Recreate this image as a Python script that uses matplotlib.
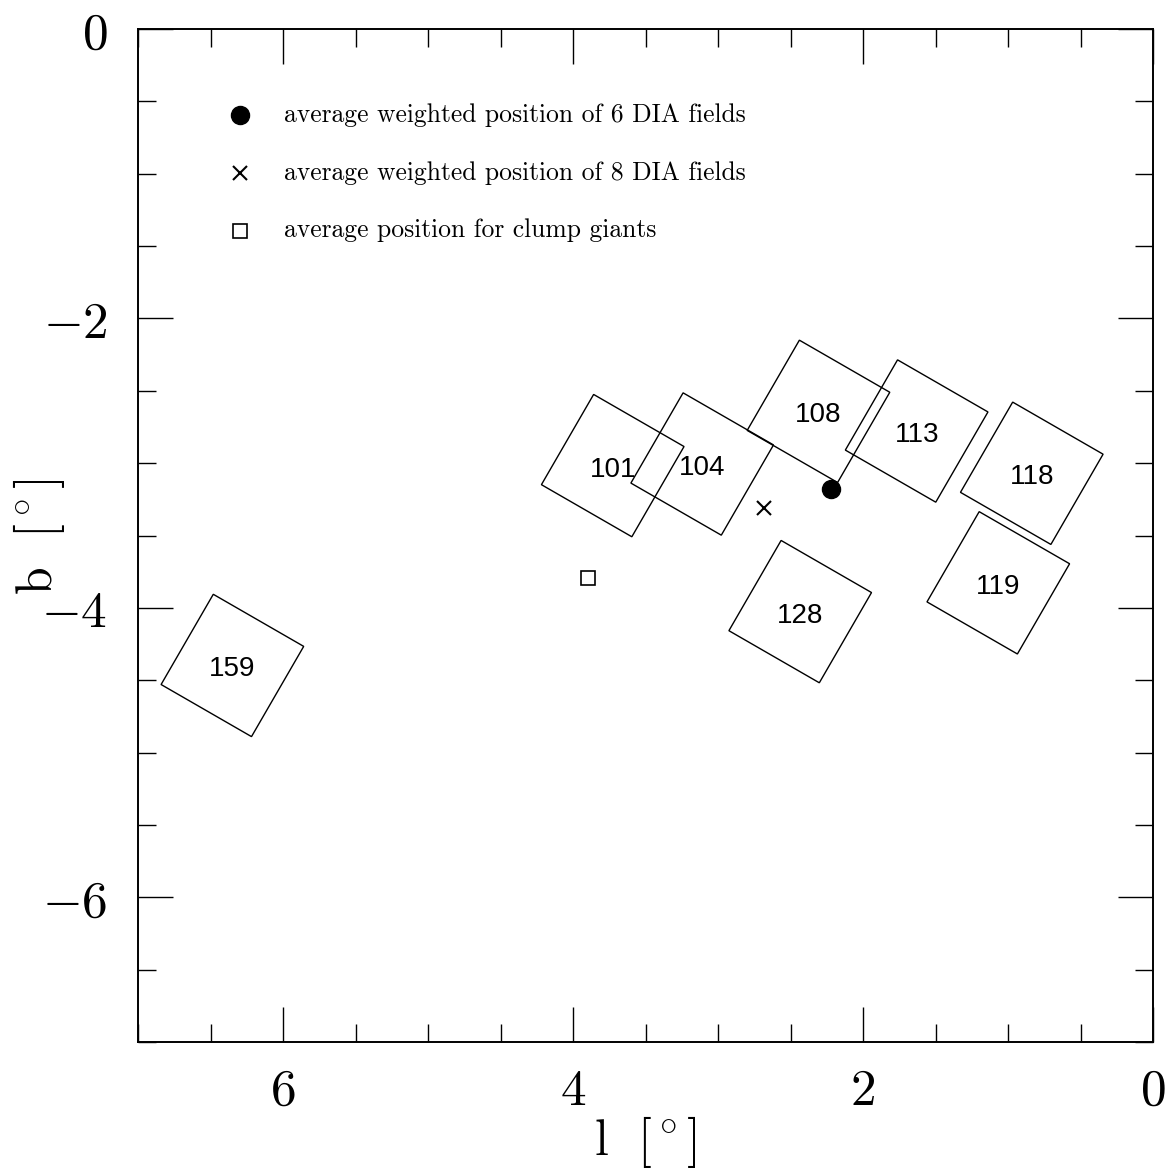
import numpy as np
import matplotlib
matplotlib.use('Agg')
import matplotlib.pyplot as plt
from matplotlib.patches import Polygon
from matplotlib.ticker import MultipleLocator, FuncFormatter

plt.rcParams['mathtext.fontset'] = 'cm'

# MACHO field centres (l, b) in degrees
field_names = ['101', '104', '108', '113', '118', '119', '128', '159']
field_l = [3.726, 3.109, 2.307, 1.630, 0.836, 1.067, 2.433, 6.349]
field_b = [-3.017, -3.006, -2.642, -2.778, -3.070, -3.827, -4.026, -4.398]
field_side = 0.72      # deg
field_angle = 30.0     # deg

# average positions
avg6_l, avg6_b = [2.223], [-3.179]
avg8_l, avg8_b = [2.683], [-3.310]
clump_l, clump_b = [3.899], [-3.795]

legend_texts = ['average weighted position of 6 DIA fields',
                'average weighted position of 8 DIA fields',
                'average position for clump giants']

W, H = 1169, 1170
fig = plt.figure(figsize=(W / 100, H / 100), dpi=100)
ax = fig.add_axes([138 / W, 1 - 1042 / H, 1015 / W, 1013 / H])
ax.set_xlim(7, 0)
ax.set_ylim(-7, 0)

th = np.deg2rad(field_angle)
u = 0.5 * field_side * np.array([np.cos(th), np.sin(th)])
v = 0.5 * field_side * np.array([-np.sin(th), np.cos(th)])
for name, l, b in zip(field_names, field_l, field_b):
    c = np.array([l, b])
    corners = [c + u + v, c + u - v, c - u - v, c - u + v]
    ax.add_patch(Polygon(corners, closed=True, fill=False, edgecolor='black', lw=1.0))
    ax.annotate(name, (l, b), xytext=(0, -4), textcoords='offset pixels',
                ha='center', va='center', fontsize=20, family='Liberation Sans')

ax.plot(avg6_l, avg6_b, 'o', color='black', ms=13)
ax.plot(avg8_l, avg8_b, 'x', color='black', ms=10, mew=1.5)
ax.plot(clump_l, clump_b, 's', mfc='none', mec='black', ms=10, mew=1.2)

# legend
leg_y = [0.915, 0.858, 0.801]
leg_style = [dict(marker='o', color='black', ms=13, ls='none'),
             dict(marker='x', color='black', ms=10, mew=1.5, ls='none'),
             dict(marker='s', mfc='none', mec='black', ms=10, mew=1.2, ls='none')]
for y, txt, st in zip(leg_y, legend_texts, leg_style):
    ax.plot([0.1005], [y], transform=ax.transAxes, **st)
    ax.text(0.1438, y, txt, transform=ax.transAxes, ha='left', va='center',
            fontsize=18.4, family='cmr10')

def fmt(val, pos):
    if abs(val) < 1e-9:
        return '$0$'
    return '$%g$' % val

ax.xaxis.set_major_locator(MultipleLocator(2))
ax.xaxis.set_minor_locator(MultipleLocator(0.5))
ax.yaxis.set_major_locator(MultipleLocator(2))
ax.yaxis.set_minor_locator(MultipleLocator(0.5))
ax.xaxis.set_major_formatter(FuncFormatter(fmt))
ax.yaxis.set_major_formatter(FuncFormatter(fmt))
ax.tick_params(which='both', direction='in', top=True, right=True, width=1.0)
ax.tick_params(which='major', length=25, labelsize=37)
ax.tick_params(which='minor', length=13)
ax.tick_params(axis='x', which='major', pad=17)
ax.tick_params(axis='y', which='major', pad=22)
for s in ax.spines.values():
    s.set_linewidth(1.4)

ax.set_xlabel(r'$\mathrm{l}\ \ [^\circ]$', fontsize=36, va='center')
ax.set_ylabel(r'$\mathrm{b}\ \ [^\circ]$', fontsize=36, va='center')
ax.xaxis.set_label_coords(0.5, (1042 - 1141.5) / 1013)
ax.yaxis.set_label_coords((39 - 138) / 1015, 0.4985)

fig.savefig('out.png', dpi=100)
